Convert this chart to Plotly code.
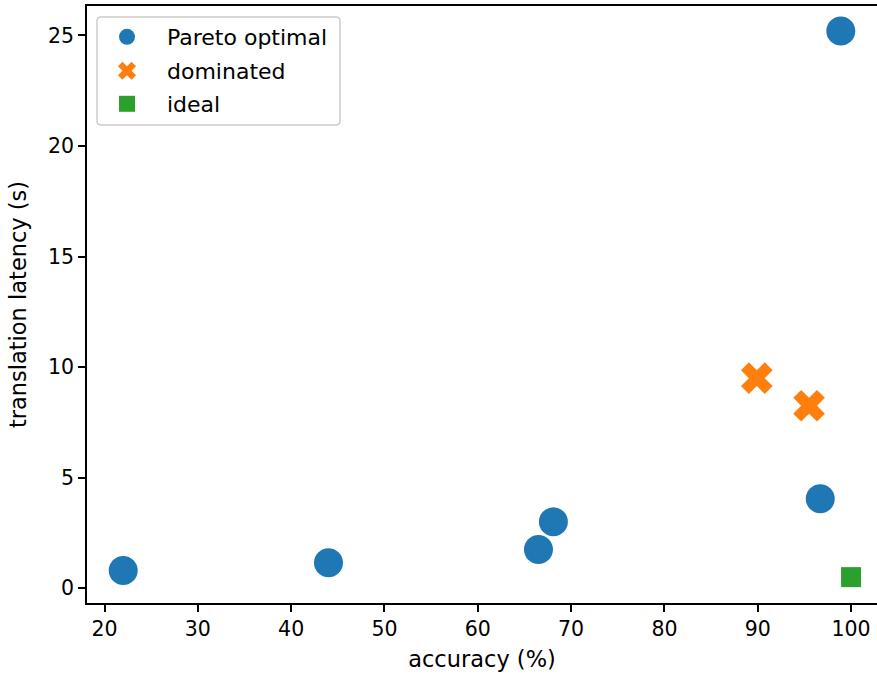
import plotly.graph_objects as go

pareto_x = [22.0, 44.0, 66.5, 68.1, 96.7, 98.9]
pareto_y = [0.8, 1.15, 1.75, 3.0, 4.05, 25.2]
dom_x = [89.9, 95.5]
dom_y = [9.5, 8.25]
ideal_x = [100.0]
ideal_y = [0.5]

x_ticks = [20, 30, 40, 50, 60, 70, 80, 90, 100]
y_ticks = [0, 5, 10, 15, 20, 25]

fam = "DejaVu Sans"
W, H = 877, 674
ML, MR, MT, MB = 87, 0, 6, 71
PW, PH = W - ML - MR, H - MT - MB


def px_x(p):
    return (p - ML) / PW


def px_y(p):
    return (H - MB - p) / PH


fig = go.Figure()
fig.add_trace(go.Scatter(x=pareto_x, y=pareto_y, mode="markers", name="Pareto optimal",
                         legend="legend", showlegend=True,
                         marker=dict(symbol="circle", size=29, color="#1f77b4", line=dict(width=0))))
fig.add_trace(go.Scatter(x=dom_x, y=dom_y, mode="markers", name="dominated",
                         legend="legend2", showlegend=True,
                         marker=dict(symbol="x", size=28, color="#ff7f0e", line=dict(width=0))))
fig.add_trace(go.Scatter(x=ideal_x, y=ideal_y, mode="markers", name="ideal",
                         legend="legend3", showlegend=True,
                         marker=dict(symbol="square", size=20, color="#2ca02c", line=dict(width=0))))

# legend frame (rounded)
x0, x1 = px_x(97), px_x(340)
y0, y1 = px_y(125), px_y(17)
rx, ry = 4 / PW, 4 / PH
path = (f"M {x0+rx},{y0} L {x1-rx},{y0} Q {x1},{y0} {x1},{y0+ry} L {x1},{y1-ry} "
        f"Q {x1},{y1} {x1-rx},{y1} L {x0+rx},{y1} Q {x0},{y1} {x0},{y1-ry} "
        f"L {x0},{y0+ry} Q {x0},{y0} {x0+rx},{y0} Z")
fig.add_shape(type="path", path=path, xref="paper", yref="paper", layer="below",
              fillcolor="rgba(255,255,255,0.8)", line=dict(color="#cccccc", width=1.5))

leg_common = dict(xanchor="left", yanchor="middle", bgcolor="rgba(0,0,0,0)", borderwidth=0,
                  font=dict(family=fam, size=22, color="black"), itemsizing="trace",
                  itemwidth=70)

fig.update_layout(
    width=W, height=H,
    showlegend=True,
    margin=dict(l=ML, r=MR, t=MT, b=MB),
    paper_bgcolor="white", plot_bgcolor="white",
    font=dict(family=fam, size=22, color="black"),
    legend=dict(x=px_x(87), y=px_y(37), **leg_common),
    legend2=dict(x=px_x(87), y=px_y(71), **leg_common),
    legend3=dict(x=px_x(87), y=px_y(104), **leg_common),
    xaxis=dict(range=[18.12, 102.78], tickvals=x_ticks, showgrid=False, zeroline=False,
               showline=True, linecolor="black", linewidth=1.6, mirror=True,
               ticks="outside", ticklen=7, tickwidth=1.6, tickcolor="black",
               tickfont=dict(family=fam, size=20.5, color="black"),
               title=dict(text="accuracy (%)", standoff=11,
                          font=dict(family=fam, size=22.5, color="black"))),
    yaxis=dict(range=[-0.67, 26.33], tickvals=y_ticks, showgrid=False, zeroline=False,
               showline=True, linecolor="black", linewidth=1.6, mirror=False,
               ticks="outside", ticklen=7, tickwidth=1.6, tickcolor="black",
               tickfont=dict(family=fam, size=20.5, color="black"),
               title=dict(text="translation latency (s)", standoff=15,
                          font=dict(family=fam, size=22.5, color="black"))),
)

fig.write_html("out.html", config={"displayModeBar": False},
               post_script="document.body.style.margin='0';document.body.style.overflow='hidden';")
